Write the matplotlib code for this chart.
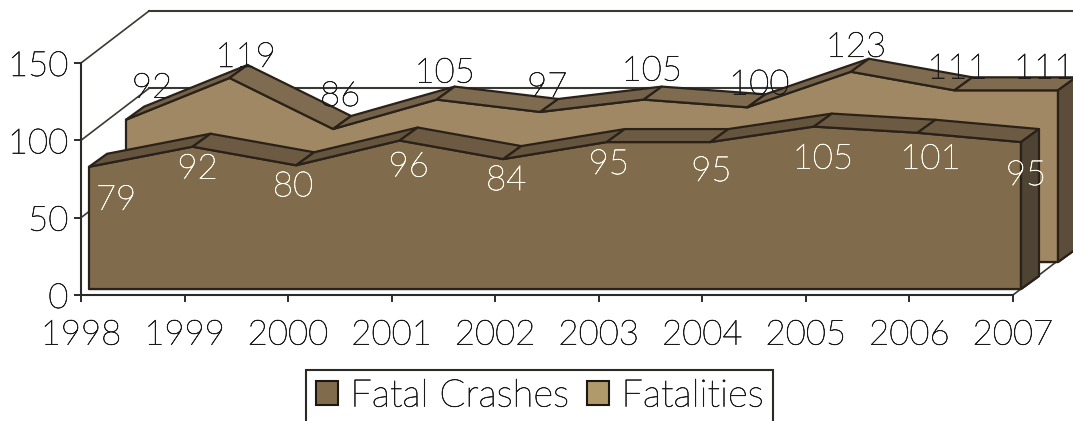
import matplotlib
matplotlib.use('Agg')
import matplotlib.pyplot as plt
import matplotlib.patheffects as pe
from matplotlib.patches import Patch
from matplotlib.text import Text

years = ['1998', '1999', '2000', '2001', '2002', '2003', '2004', '2005', '2006', '2007']
crashes = [79, 92, 80, 96, 84, 95, 95, 105, 101, 95]
fatalities = [92, 119, 86, 105, 97, 105, 100, 123, 111, 111]
yticks = [0, 50, 100, 150]

# label nudges in pixels from the top of each front face point
crash_nudge = [(27, -33), (5, -22), (-3, -21), (9, -26), (3, -21), (2, -22), (1, -29), (9, -32), (13, -26), (5, -33)]
fatal_nudge = [(26, 32), (16, 21), (7, 33), (8, 27), (7, 25), (8, 29), (12, 23), (5, 25), (3, 22), (-14, 22)]

W, H = 1073, 421
plt.rcParams['font.family'] = ['Lato', 'DejaVu Sans']
plt.rcParams['font.weight'] = 'light'

fig = plt.figure(figsize=(W / 100, H / 100), dpi=100)
ax = fig.add_axes([81 / W, 1 - 295 / H, 932 / W, 232 / H])
ax.set_xlim(0, 9)
ax.set_ylim(0, 150)
ax.patch.set_visible(False)

PX = 932 / 9
PY = 232 / 150
EDGE = '#2a2118'


def shift(x, y, dx, dy):
    # pixel offset into data units, this is the fake 3d depth
    return x + dx / PX, y + dy / PY


def poly(points, color, z):
    xs = [p[0] for p in points]
    ys = [p[1] for p in points]
    ax.fill(xs, ys, facecolor=color, edgecolor=EDGE, linewidth=1.6, zorder=z, clip_on=False, joinstyle='round')


def draw_series(values, ox, oy, face, up_col, down_col, side_col, z):
    n = len(values)
    front = [shift(i, v, ox, oy) for i, v in enumerate(values)]
    base = [shift(i, 0, ox, oy) for i in range(n)]
    # floor under the series
    poly([base[0], base[-1], shift(*base[-1], 18, 13), shift(*base[0], 18, 13)], face, z)
    poly([base[0]] + front + [base[-1]], face, z + 1)
    # top band, one piece per segment
    for i in range(n - 1):
        a, b = front[i], front[i + 1]
        col = up_col if values[i + 1] > values[i] else down_col
        poly([a, b, shift(*b, 18, 13), shift(*a, 18, 13)], col, z + 2)
    last, lastb = front[-1], base[-1]
    poly([last, lastb, shift(*lastb, 18, 13), shift(*last, 18, 13)], side_col, z + 2)


# back wall and floor lines
wall_dx, wall_dy = 68, 52
for v in [100, 150]:
    x0, y0 = shift(0, v, wall_dx, wall_dy)
    x1, y1 = shift(9.8, v, wall_dx, wall_dy)
    ax.plot([x0, x1], [y0, y1], color='#3a3a34', lw=1.5, zorder=1, clip_on=False)
for v in yticks[1:]:
    x0, y0 = shift(0, v, wall_dx, wall_dy)
    ax.plot([0, x0], [v, y0], color='#3a3a34', lw=1.2, zorder=1, clip_on=False)
x0, y0 = shift(9, 0, wall_dx, wall_dy)
ax.plot([9, x0], [0, y0], color='#3a3a34', lw=1.2, zorder=1, clip_on=False)

draw_series(fatalities, 45, 33, '#a08864', '#75624a', '#7f6c50', '#5c4d3a', 2)
draw_series(crashes, 8, 6, '#806b4d', '#65543e', '#6c5a43', '#4f4334', 6)

for i, v in enumerate(crashes):
    x, y = shift(i, v, 8 + crash_nudge[i][0], 6 + crash_nudge[i][1])
    ax.text(x, y, str(v), color='#fffbef', fontsize=25, ha='center', va='center', zorder=12, clip_on=False)
for i, v in enumerate(fatalities):
    x, y = shift(i, v, 45 + fatal_nudge[i][0], 33 + fatal_nudge[i][1])
    ax.text(x, y, str(v), color='#1a1a1a', fontsize=25, ha='center', va='center', zorder=5, clip_on=False)

for s in ['top', 'right']:
    ax.spines[s].set_visible(False)
for s in ['left', 'bottom']:
    ax.spines[s].set_color('#2a2a26')
    ax.spines[s].set_linewidth(1.5)
ax.set_xticks(range(len(years)))
ax.set_xticklabels(years)
ax.set_yticks(yticks)
ax.tick_params(axis='x', length=5, width=1.3, pad=12, labelsize=25, colors='#1a1a1a')
ax.tick_params(axis='y', length=5, width=1.3, pad=4, labelsize=25, colors='#1a1a1a')

handles = [Patch(facecolor='#806b4d', edgecolor='#1c1710', lw=1.5, label='Fatal Crashes'),
           Patch(facecolor='#b09a6c', edgecolor='#1c1710', lw=1.5, label='Fatalities')]
leg = fig.legend(handles=handles, loc='upper left', bbox_to_anchor=(306 / W, 1 - 370 / H), ncol=2,
                 fontsize=27.5, labelcolor='#1a1a1a', frameon=True, fancybox=False, edgecolor='#2a2a26',
                 framealpha=1, handlelength=0.58, handleheight=0.58, handletextpad=0.33, columnspacing=0.45,
                 borderaxespad=0, borderpad=0.25)
leg.get_frame().set_linewidth(1.5)

# the light face is too thin here, thicken it a bit
for t in fig.findobj(Text):
    t.set_path_effects([pe.withStroke(linewidth=0.45, foreground=t.get_color())])

fig.savefig('out.png', dpi=100)
